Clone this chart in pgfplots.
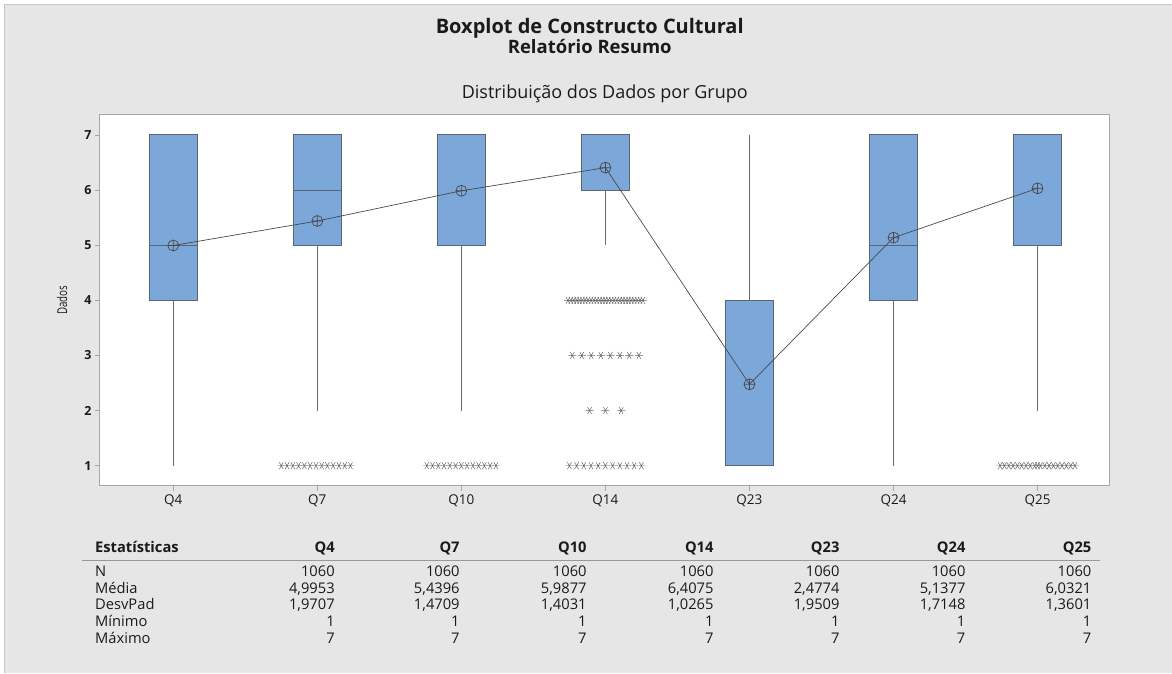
\documentclass[border=0pt]{standalone}
\usepackage{fontspec}
\setmainfont{Open Sans}
\usepackage{graphicx}
\usepackage{pgfplots}
\pgfplotsset{compat=1.18}
\usepgfplotslibrary{statistics}

\definecolor{pagegray}{HTML}{E6E6E6}
\definecolor{framegray}{HTML}{C8C8C8}
\definecolor{axisgray}{HTML}{A8A8A8}
\definecolor{boxblue}{HTML}{7BA7D9}
\definecolor{boxedge}{HTML}{5A6676}
\definecolor{whisk}{HTML}{6A6A6A}
\definecolor{meanline}{HTML}{4A4A4A}
\definecolor{txt}{HTML}{1A1A1A}

\pgfplotsset{
  qbox/.style={
    fill=boxblue, draw=boxedge, line width=1pt,
    boxplot/draw direction=y,
    boxplot/box extend=0.333,
    boxplot/whisker extend=0,
    boxplot/every whisker/.style={draw=whisk, line width=1pt},
    boxplot/every median/.style={draw=boxedge, line width=1pt},
  },
  outl/.style={only marks, mark=asterisk, mark size=4pt,
    mark options={rotate=90, draw=whisk, line width=0.5pt}},
}

\begin{document}
\begin{tikzpicture}
  % page
  \fill[white] (0pt,0pt) rectangle (1172pt,-673pt);
  \fill[pagegray] (5pt,-5pt) rectangle (1172pt,-673pt);
  \draw[framegray, line width=1pt] (5pt,-673pt) -- (5pt,-5pt) -- (1172pt,-5pt);

  % titles
  \node[anchor=base, font=\fontsize{20}{22}\selectfont\bfseries, text=txt] at (590pt,-34pt) {Boxplot de Constructo Cultural};
  \node[anchor=base, font=\fontsize{18.5}{20}\selectfont\bfseries, text=txt] at (590pt,-54pt) {Relatório Resumo};
  \node[anchor=base, font=\fontsize{18}{20}\selectfont, text=txt] at (605pt,-99pt) {Distribuição dos Dados por Grupo};

  \begin{axis}[
    at={(100pt,-486pt)}, anchor=south west,
    width=1010pt, height=371pt, scale only axis,
    xmin=-0.509, xmax=6.50,
    ymin=0.6364, ymax=7.3636,
    axis background/.style={fill=white},
    axis line style={draw=axisgray, line width=1pt},
    xtick={0,1,2,3,4,5,6},
    xticklabels={Q4,Q7,Q10,Q14,Q23,Q24,Q25},
    ytick={1,2,3,4,5,6,7},
    tick align=outside, xtick pos=bottom, ytick pos=left,
    major tick length=5pt,
    tick style={draw=axisgray, line width=0.8pt},
    /pgf/number format/assume math mode=true,
    xticklabel style={font=\fontsize{13.5}{14}\selectfont, text=txt},
    yticklabel style={font=\fontsize{12.5}{13}\selectfont\bfseries, text=txt},
    ylabel={\scalebox{0.72}[1]{Dados}},
    every axis y label/.style={at={(axis description cs:-0.0376,0.5)}, rotate=90,
      anchor=center, font=\fontsize{13.5}{14}\selectfont, text=txt},
  ]
    % boxes
    \addplot[qbox, boxplot prepared={draw position=0, lower whisker=1, lower quartile=4, median=5, upper quartile=7, upper whisker=7}] coordinates {};
    \addplot[qbox, boxplot prepared={draw position=1, lower whisker=2, lower quartile=5, median=6, upper quartile=7, upper whisker=7}] coordinates {};
    \addplot[qbox, boxplot prepared={draw position=2, lower whisker=2, lower quartile=5, median=7, upper quartile=7, upper whisker=7}] coordinates {};
    \addplot[qbox, boxplot prepared={draw position=3, lower whisker=5, lower quartile=6, median=7, upper quartile=7, upper whisker=7}] coordinates {};
    \addplot[qbox, boxplot prepared={draw position=4, lower whisker=1, lower quartile=1, median=1, upper quartile=4, upper whisker=7}] coordinates {};
    \addplot[qbox, boxplot prepared={draw position=5, lower whisker=1, lower quartile=4, median=5, upper quartile=7, upper whisker=7}] coordinates {};
    \addplot[qbox, boxplot prepared={draw position=6, lower whisker=2, lower quartile=5, median=7, upper quartile=7, upper whisker=7}] coordinates {};

    % outliers (spread sideways so that repeated values stay visible)
    \addplot[outl] coordinates {
      (0.75,1)(0.79,1)(0.83,1)(0.87,1)(0.91,1)(0.95,1)(0.99,1)(1.03,1)(1.07,1)(1.11,1)(1.15,1)(1.19,1)(1.23,1)
    };
    \addplot[outl] coordinates {
      (1.76,1)(1.80,1)(1.84,1)(1.88,1)(1.92,1)(1.96,1)(2.00,1)(2.04,1)(2.08,1)(2.12,1)(2.16,1)(2.20,1)(2.24,1)
    };
    \addplot[outl] coordinates {
      (2.74,4)(2.76,4)(2.78,4)(2.80,4)(2.82,4)(2.84,4)(2.86,4)(2.88,4)(2.90,4)(2.92,4)(2.94,4)(2.96,4)(2.98,4)
      (3.00,4)(3.02,4)(3.04,4)(3.06,4)(3.08,4)(3.10,4)(3.12,4)(3.14,4)(3.16,4)(3.18,4)(3.20,4)(3.22,4)(3.24,4)(3.26,4)
      (2.77,3)(2.836,3)(2.902,3)(2.968,3)(3.034,3)(3.10,3)(3.166,3)(3.232,3)
      (2.89,2)(3.00,2)(3.11,2)
      (2.75,1)(2.80,1)(2.85,1)(2.90,1)(2.95,1)(3.00,1)(3.05,1)(3.10,1)(3.15,1)(3.20,1)(3.25,1)
    };
    \addplot[outl] coordinates {
      (5.74,1)(5.77,1)(5.80,1)(5.83,1)(5.86,1)(5.89,1)(5.92,1)(5.95,1)(5.98,1)(6.00,1)(6.02,1)
      (6.05,1)(6.08,1)(6.11,1)(6.14,1)(6.17,1)(6.20,1)(6.23,1)(6.26,1)
    };

    % means
    \addplot[meanline, line width=0.7pt, mark=oplus, mark size=5.5pt,
      mark options={draw=meanline, fill=none, line width=0.7pt}] coordinates {
      (0,4.9953)(1,5.4396)(2,5.9877)(3,6.4075)(4,2.4774)(5,5.1377)(6,6.0321)
    };
  \end{axis}

  % summary table
  \begin{scope}[every node/.style={font=\fontsize{14.7}{15}\selectfont, text=txt, inner sep=0pt}]
    \node[anchor=base west, font=\fontsize{14.7}{15}\selectfont\bfseries] at (95pt,-553pt) {Estatísticas};
    \foreach \x/\q in {335/Q4,460/Q7,587/Q10,714/Q14,840/Q23,966/Q24,1092/Q25}
      \node[anchor=base east, font=\fontsize{14.7}{15}\selectfont\bfseries] at (\x pt,-553pt) {\q};
    \draw[draw=gray!80, line width=1.2pt] (82pt,-561pt) -- (1100pt,-561pt);

    \node[anchor=base west] at (95pt,-577pt) {N};
    \node[anchor=base west] at (95pt,-594pt) {Média};
    \node[anchor=base west] at (95pt,-610pt) {DesvPad};
    \node[anchor=base west] at (95pt,-627pt) {Mínimo};
    \node[anchor=base west] at (95pt,-644pt) {Máximo};

    \foreach \x/\m/\s in {335/{4,9953}/{1,9707}, 460/{5,4396}/{1,4709}, 587/{5,9877}/{1,4031},
                          714/{6,4075}/{1,0265}, 840/{2,4774}/{1,9509}, 966/{5,1377}/{1,7148},
                          1092/{6,0321}/{1,3601}} {
      \node[anchor=base east] at (\x pt,-577pt) {1060};
      \node[anchor=base east] at (\x pt,-594pt) {\m};
      \node[anchor=base east] at (\x pt,-610pt) {\s};
      \node[anchor=base east] at (\x pt,-627pt) {1};
      \node[anchor=base east] at (\x pt,-644pt) {7};
    }
  \end{scope}
\end{tikzpicture}
\end{document}
